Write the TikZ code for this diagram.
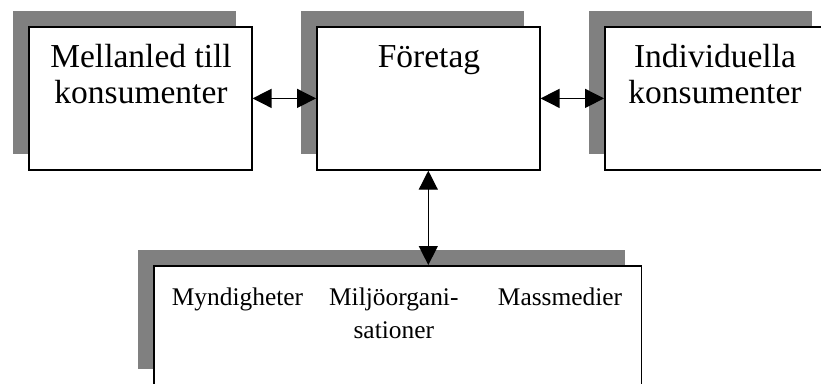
\documentclass[tikz,border=0pt]{standalone}
\usepackage{fontspec}
\setmainfont{Liberation Serif}
\usetikzlibrary{arrows.meta,shadows}
\definecolor{shadowgray}{RGB}{128,128,128}
\begin{document}
\begin{tikzpicture}[x=1pt,y=-1pt,
  box/.style={draw=black, fill=white, line width=1.5pt, inner sep=0pt,
    general shadow={fill=shadowgray, shadow xshift=-16pt, shadow yshift=16pt}},
  topbox/.style={box, minimum width=223pt, minimum height=143pt},
  bigtext/.style={anchor=base, align=center, inner sep=0pt,
    font=\fontsize{33.5}{36}\selectfont},
  smalltext/.style={anchor=base, align=center, inner sep=0pt,
    font=\fontsize{25.4}{33}\selectfont},
  link/.style={line width=1.3pt, {Triangle[length=19pt,width=19pt]}-{Triangle[length=19pt,width=19pt]}}
]
\clip (0,0) rectangle (821,383);
\useasboundingbox (0,0) rectangle (821,383);
\fill[white] (0,0) rectangle (821,383);

% the three upper boxes
\node[topbox] (mellan) at (140.3,98.4) {};
\node[topbox] (foretag) at (428.3,98.4) {};
\node[topbox] (indiv) at (716.3,98.4) {};

% the lower box for the outside actors
\node[box, minimum width=487.5pt, minimum height=119.5pt] (omvarld) at (397.5,325.5) {};

% labels (a multi-line node sits on the baseline of its last line)
\node[bigtext] (tmellan) at (141,103) {Mellanled till\\konsumenter};
\node[bigtext] (tforetag) at (429,67) {Företag};
\node[bigtext] (tindiv) at (715,103) {Individuella\\konsumenter};
\node[smalltext] (tmynd) at (237.5,305) {Myndigheter};
\node[smalltext] (tmiljo) at (393.8,338) {Miljöorgani\hbox{-}\\sationer};
\node[smalltext] (tmass) at (560,305) {Massmedier};

% connectors
\draw[link] (mellan.east) -- (foretag.west);
\draw[link] (foretag.east) -- (indiv.west);
\draw[link] (foretag.south) -- (foretag.south |- omvarld.north);
\end{tikzpicture}
\end{document}
